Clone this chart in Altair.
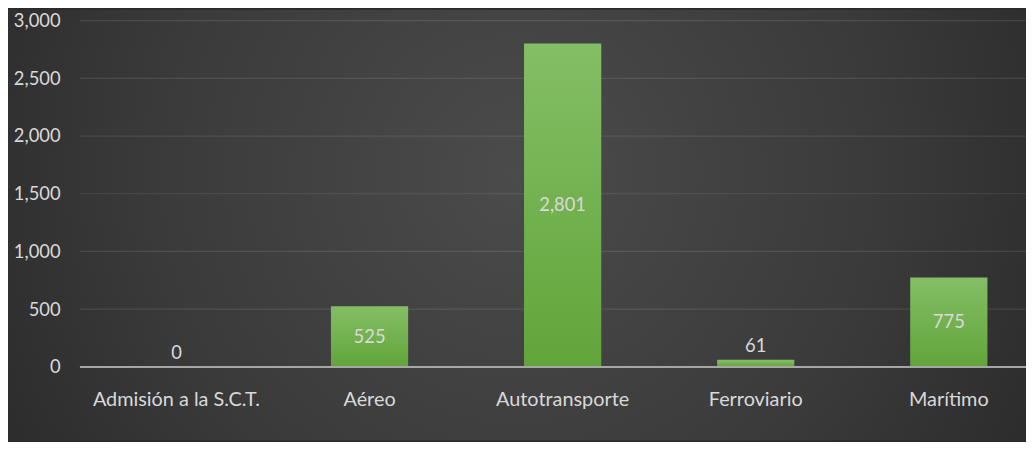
import altair as alt
import pandas as pd

categories = ["Admisión a la S.C.T.", "Aéreo", "Autotransporte", "Ferroviario", "Marítimo"]
values = [0, 525, 2801, 61, 775]
y_ticks = [0, 500, 1000, 1500, 2000, 2500, 3000]

df = pd.DataFrame({"cat": categories, "value": values})
grid_df = pd.DataFrame({"tick": y_ticks})

FONT = "Lato"
TXT = "#d9d9d9"
W, H = 953.5, 349
PL, PT, PB = 72.5, 11, 74

x_axis = alt.Axis(title=None, labelAngle=0, labelFontSize=20, labelColor=TXT,
                  labelFont=FONT, labelPadding=23, ticks=False, domain=False, grid=False, zindex=1)
y_axis = alt.Axis(title=None, tickCount=len(y_ticks) - 1, labelExpr="format(datum.value, ',')",
                  labelFontSize=18.5, labelColor=TXT,
                  labelFont=FONT, labelPadding=20, ticks=False, domain=False, grid=False, zindex=1)
x_scale = alt.Scale(range=[0, 973], paddingInner=0.6, paddingOuter=0.3)
y_scale = alt.Scale(domain=[y_ticks[0], y_ticks[-1]], nice=False)

bg = alt.Chart(alt.Data(values=[{}])).mark_rect(
    color=alt.Gradient(gradient="radial",
                       stops=[alt.GradientStop(color="#4b4b4b", offset=0),
                              alt.GradientStop(color="#3a3a3a", offset=0.5),
                              alt.GradientStop(color="#222222", offset=1)],
                       x1=0.5, y1=0.45, r1=0, x2=0.5, y2=0.45, r2=0.72)
).encode(x=alt.value(-PL), x2=alt.value(W), y=alt.value(-PT), y2=alt.value(H + PB))

grid = alt.Chart(grid_df).transform_filter("datum.tick > 0").mark_rule(
    color="#ffffff", opacity=0.1, strokeWidth=1.2
).encode(y=alt.Y("tick:Q", scale=y_scale, axis=y_axis))

base = alt.Chart(df)

bars = base.mark_bar(
    color=alt.Gradient(gradient="linear",
                       stops=[alt.GradientStop(color="#84be66", offset=0),
                              alt.GradientStop(color="#62a53a", offset=1)],
                       x1=0, y1=0, x2=0, y2=1)
).encode(
    x=alt.X("cat:N", sort=categories, scale=x_scale, axis=x_axis),
    y=alt.Y("value:Q", scale=y_scale, axis=y_axis),
)

zero = alt.Chart(grid_df).transform_filter("datum.tick == 0").mark_rule(
    color="#a6a6a6", strokeWidth=2
).encode(y=alt.Y("tick:Q", scale=y_scale, axis=y_axis))

labels_in = base.transform_filter("datum.value >= 300").transform_calculate(
    mid="datum.value / 2"
).mark_text(font=FONT, fontSize=18.5, color=TXT, baseline="middle").encode(
    x=alt.X("cat:N", sort=categories, scale=x_scale, axis=x_axis),
    y=alt.Y("mid:Q", scale=y_scale, axis=y_axis),
    text=alt.Text("value:Q", format=","),
)
labels_out = base.transform_filter("datum.value < 300").mark_text(
    font=FONT, fontSize=18.5, color=TXT, baseline="bottom", dy=-4
).encode(
    x=alt.X("cat:N", sort=categories, scale=x_scale, axis=x_axis),
    y=alt.Y("value:Q", scale=y_scale, axis=y_axis),
    text=alt.Text("value:Q", format=","),
)

chart = alt.layer(bg, grid, bars, zero, labels_in, labels_out).properties(
    width=W, height=H,
    autosize=alt.AutoSizeParams(type="none"),
    padding={"left": PL, "top": PT, "right": 0, "bottom": PB},
).configure(background="#2b2b2b").configure_view(stroke=None)

chart.save("out.html", embed_options={"renderer": "svg", "actions": False})
